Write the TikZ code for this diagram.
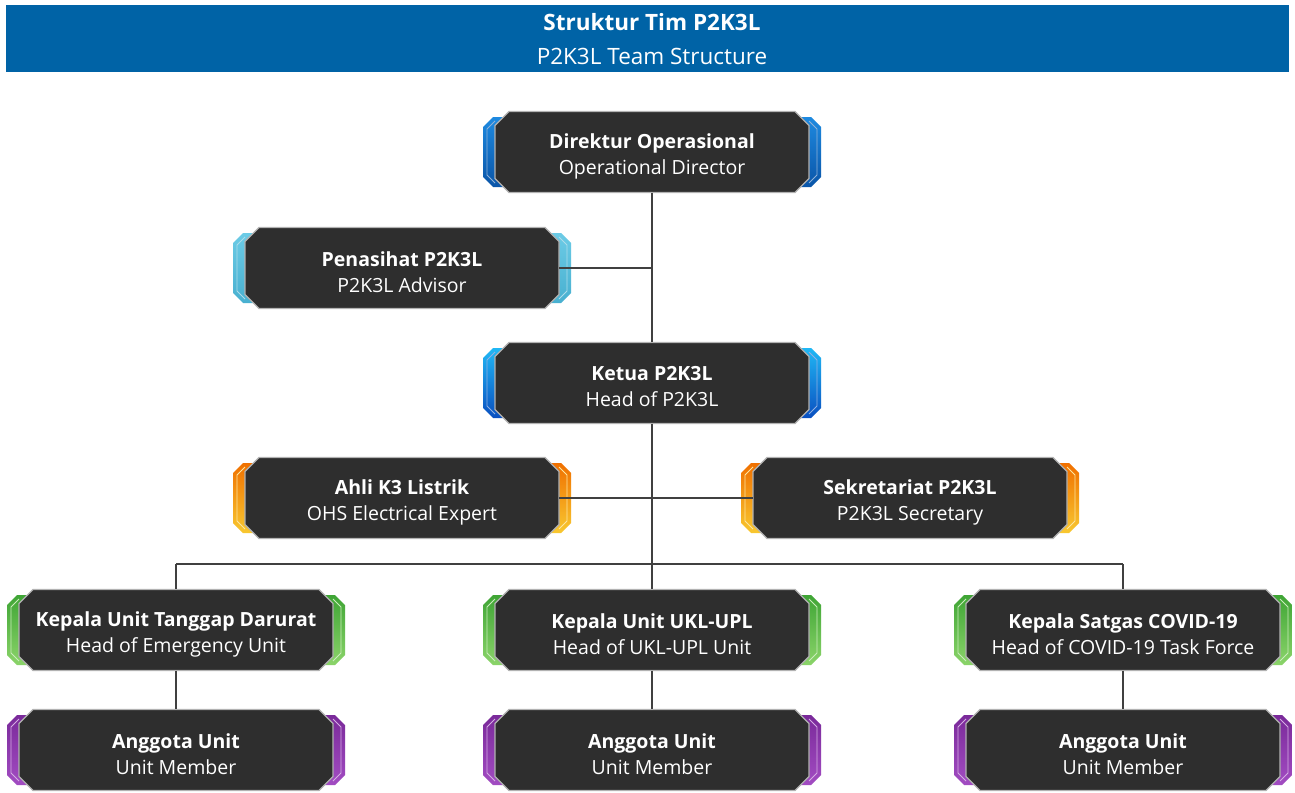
\documentclass[tikz,border=0pt]{standalone}
\usepackage{fontspec}
\setmainfont{Open Sans}
\usetikzlibrary{calc}
\definecolor{hdr}{HTML}{0063A6}
\definecolor{body}{HTML}{2E2E2E}
\definecolor{lnk}{HTML}{404040}
\definecolor{dirA}{HTML}{1E8AE0}\definecolor{dirB}{HTML}{0A55A8}
\definecolor{advA}{HTML}{6CCBE6}\definecolor{advB}{HTML}{48B0D0}
\definecolor{hdA}{HTML}{20B8F5}\definecolor{hdB}{HTML}{0A4FC0}
\definecolor{orA}{HTML}{F07000}\definecolor{orB}{HTML}{F8C830}
\definecolor{grA}{HTML}{3FA535}\definecolor{grB}{HTML}{8BD46A}
\definecolor{puA}{HTML}{7A2A9A}\definecolor{puB}{HTML}{A24CC2}
\tikzset{
  box/.style={rectangle, minimum width=314pt, minimum height=81pt, inner sep=0pt},
  boxtext/.style={inner sep=0pt, text=white, align=center, font=\fontsize{19.5}{26}\selectfont},
  bodyshape/.style={fill=body, draw=gray!60, line width=1.3pt},
  link/.style={draw=lnk, line width=1.3pt},
  hdrtext/.style={text=white, font=\fontsize{22.5}{26}\selectfont}
}
% #1 name, #2 x, #3 y, #4 top colour, #5 bottom colour, #6 bold, #7 regular
\newcommand\orgbox[7]{%
  \begin{scope}[shift={(#2,#3)}]
    \shade[top color=#4, bottom color=#5] (-148,-35) -- (-159,-35) -- (-169,-25) -- (-169,25) -- (-159,35) -- (-148,35) -- cycle;
    \shade[top color=#4, bottom color=#5] (148,-35) -- (159,-35) -- (169,-25) -- (169,25) -- (159,35) -- (148,35) -- cycle;
    \draw[white!55!#5, line width=0.8pt] (-157,-31) -- (-165,-23) -- (-165,23) -- (-157,31);
    \draw[white!55!#5, line width=0.8pt] (157,-31) -- (165,-23) -- (165,23) -- (157,31);
    \path[bodyshape] (-143,-40.5) -- (143,-40.5) -- (157,-26.5) -- (157,26.5) -- (143,40.5) -- (-143,40.5) -- (-157,26.5) -- (-157,-26.5) -- cycle;
  \end{scope}
  \node[box] (#1) at (#2,#3) {};
  \node[boxtext] (#1t) at ($(#1.center)+(0,4)$) {\textbf{#6}\\#7};
}
\begin{document}
\begin{tikzpicture}[x=1pt,y=-1pt]
\useasboundingbox (0,0) rectangle (1295,792);
\fill[white] (0,0) rectangle (1295,792);
\node[fill=hdr, minimum width=1283pt, minimum height=67pt, inner sep=0pt, anchor=north west] (header) at (6,5) {};
\node[hdrtext] (htitle) at (652,22.5) {\textbf{Struktur Tim P2K3L}};
\node[hdrtext] (hsub) at (652,56.5) {P2K3L Team Structure};

\coordinate (bus) at (652,564);
\coordinate (busL) at (176,564);
\coordinate (busR) at (1123,564);
\coordinate (advj) at (652,268);

\orgbox{dir}{652}{152}{dirA}{dirB}{Direktur Operasional}{Operational Director}
\orgbox{adv}{402}{268}{advA}{advB}{Penasihat P2K3L}{P2K3L Advisor}
\orgbox{head}{652}{383}{hdA}{hdB}{Ketua P2K3L}{Head of P2K3L}
\orgbox{exp}{402}{498}{orA}{orB}{Ahli K3 Listrik}{OHS Electrical Expert}
\orgbox{sec}{910}{498}{orA}{orB}{Sekretariat P2K3L}{P2K3L Secretary}
\orgbox{ku1}{176}{630}{grA}{grB}{Kepala Unit Tanggap Darurat}{Head of Emergency Unit}
\orgbox{ku2}{652}{630}{grA}{grB}{Kepala Unit UKL-UPL}{Head of UKL-UPL Unit}
\orgbox{ku3}{1123}{630}{grA}{grB}{Kepala Satgas COVID-19}{Head of COVID-19 Task Force}
\orgbox{am1}{176}{750}{puA}{puB}{Anggota Unit}{Unit Member}
\orgbox{am2}{652}{750}{puA}{puB}{Anggota Unit}{Unit Member}
\orgbox{am3}{1123}{750}{puA}{puB}{Anggota Unit}{Unit Member}

\draw[link] (dir.south) -- (head.north);
\draw[link] (adv.east) -- (advj);
\draw[link] (head.south) -- (bus);
\draw[link] (exp.east) -- (sec.west);
\draw[link] (busL) -- (busR);
\draw[link] (busL) -- (ku1.north);
\draw[link] (bus) -- (ku2.north);
\draw[link] (busR) -- (ku3.north);
\draw[link] (ku1.south) -- (am1.north);
\draw[link] (ku2.south) -- (am2.north);
\draw[link] (ku3.south) -- (am3.north);
\end{tikzpicture}
\end{document}
